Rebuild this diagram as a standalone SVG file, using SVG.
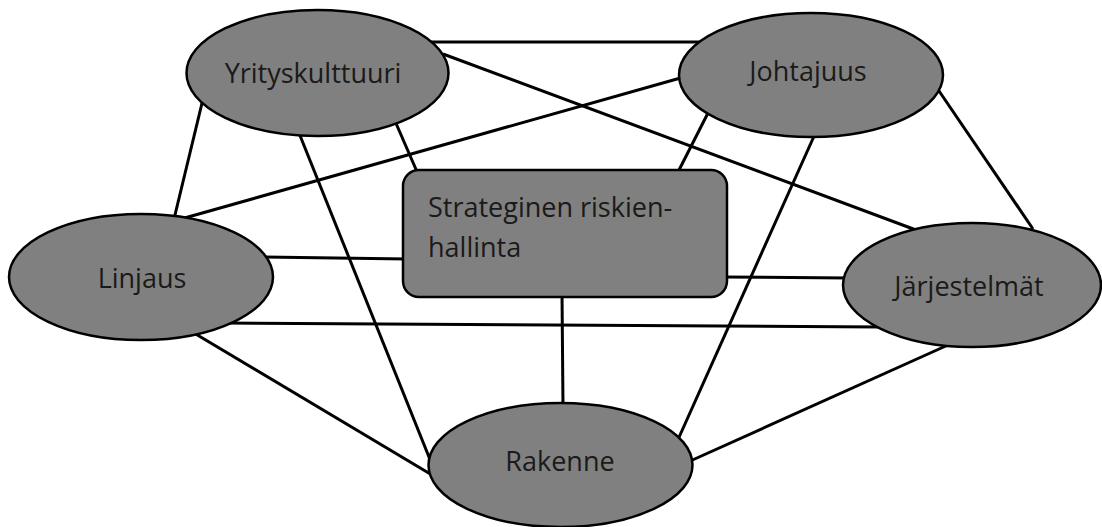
<svg xmlns="http://www.w3.org/2000/svg" width="1102" height="527" viewBox="0 0 1102 527">
<style>
.n{fill:#808080;stroke:#000;stroke-width:2.5}
.c line{stroke:#000;stroke-width:3}
text{font-family:"Open Sans","Noto Sans",sans-serif;font-size:27px;fill:#1a1a1a}
.m{text-anchor:middle}
</style>
<rect width="1102" height="527" fill="#fff"/>
<g id="connectors" class="c">
<line x1="428" y1="42" x2="704" y2="42"/>
<line x1="443" y1="54" x2="916" y2="230"/>
<line x1="395" y1="121" x2="418" y2="174"/>
<line x1="203" y1="99" x2="174" y2="219"/>
<line x1="299" y1="133" x2="431" y2="462"/>
<line x1="684" y1="77" x2="181" y2="219"/>
<line x1="709" y1="111" x2="677" y2="174"/>
<line x1="815" y1="134" x2="676" y2="444"/>
<line x1="937" y1="88" x2="1033" y2="229"/>
<line x1="264" y1="257" x2="407" y2="259"/>
<line x1="222" y1="323" x2="880" y2="327"/>
<line x1="194" y1="333" x2="432" y2="475"/>
<line x1="723" y1="277" x2="848" y2="278"/>
<line x1="562" y1="293" x2="563" y2="407"/>
<line x1="948" y1="345" x2="688" y2="462"/>
</g>
<g id="yrityskulttuuri">
<ellipse class="n" cx="317.5" cy="73" rx="131" ry="63"/>
<text class="m" x="313" y="83">Yrityskulttuuri</text>
</g>
<g id="johtajuus">
<ellipse class="n" cx="811" cy="75" rx="132" ry="62"/>
<text class="m" x="808" y="81">Johtajuus</text>
</g>
<g id="linjaus">
<ellipse class="n" cx="141" cy="277" rx="132" ry="63"/>
<text class="m" x="142" y="288">Linjaus</text>
</g>
<g id="jarjestelmat">
<ellipse class="n" cx="972" cy="285" rx="129" ry="62"/>
<text class="m" x="969" y="296">Järjestelmät</text>
</g>
<g id="rakenne">
<ellipse class="n" cx="560.5" cy="465" rx="132" ry="62"/>
<text class="m" x="560" y="471">Rakenne</text>
</g>
<g id="strateginen">
<rect class="n" x="403" y="170" width="324" height="127" rx="16"/>
<text x="428" y="217">Strateginen riskien-</text>
<text x="428" y="257">hallinta</text>
</g>
</svg>
